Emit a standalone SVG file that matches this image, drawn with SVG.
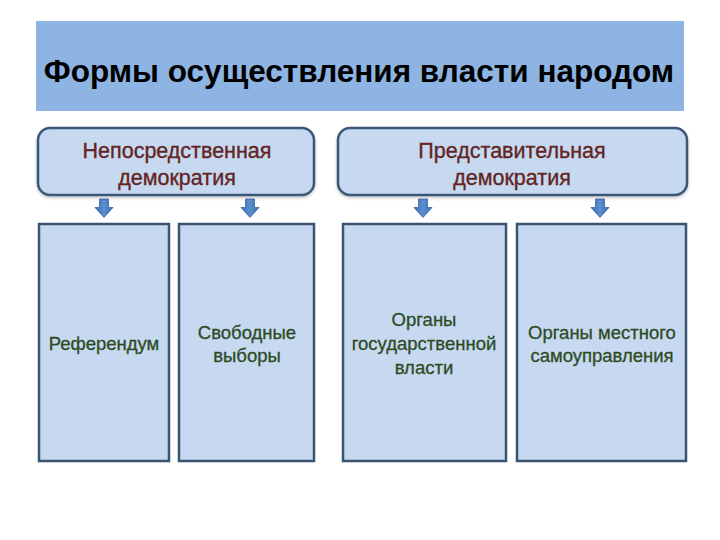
<svg xmlns="http://www.w3.org/2000/svg" width="720" height="540" viewBox="0 0 720 540">
  <defs>
    <linearGradient id="arrowGrad" x1="0" y1="0" x2="1" y2="0">
      <stop offset="0" stop-color="#3D6FAE"/>
      <stop offset="0.5" stop-color="#5B8ED0"/>
      <stop offset="1" stop-color="#3D6FAE"/>
    </linearGradient>
    <filter id="shadow" x="-5%" y="-5%" width="110%" height="115%">
      <feDropShadow dx="0" dy="1.5" stdDeviation="1.5" flood-color="#000" flood-opacity="0.25"/>
    </filter>
  </defs>
  <style>
    .title { font-family: "Liberation Sans", Arial, sans-serif; font-weight: bold; font-size: 31.5px; fill: #000000; }
    .band { fill: #8DB4E2; }
    .top { fill: #C6D9F1; stroke: #3B5878; stroke-width: 2.5; }
    .bottom { fill: #C6D9F1; stroke: #3B5370; stroke-width: 2.5; }
    .ttext { font-family: "Liberation Sans", Arial, sans-serif; font-size: 21.5px; fill: #632423; stroke: #632423; stroke-width: 0.35; text-anchor: middle; }
    .btext { font-family: "Liberation Sans", Arial, sans-serif; font-size: 18.5px; fill: #2E4B1F; stroke: #2E4B1F; stroke-width: 0.3; text-anchor: middle; }
    .arrow { fill: url(#arrowGrad); stroke: #36649E; stroke-width: 0.8; }
  </style>
  <rect width="720" height="540" fill="#FFFFFF"/>

  <g id="title">
    <rect class="band" x="36" y="21" width="648" height="90"/>
    <text class="title" x="359" y="82" text-anchor="middle">Формы осуществления власти народом</text>
  </g>

  <g id="direct-democracy">
    <rect class="top" x="38" y="128" width="276" height="67" rx="12" ry="12" filter="url(#shadow)"/>
    <text class="ttext" x="177" y="158">Непосредственная</text>
    <text class="ttext" x="177" y="185">демократия</text>
  </g>

  <g id="representative-democracy">
    <rect class="top" x="338" y="128" width="349" height="67" rx="12" ry="12" filter="url(#shadow)"/>
    <text class="ttext" x="512" y="158">Представительная</text>
    <text class="ttext" x="512" y="185">демократия</text>
  </g>

  <g id="referendum">
    <rect class="bottom" x="39" y="224" width="130" height="237"/>
    <text class="btext" x="104" y="350">Референдум</text>
  </g>

  <g id="free-elections">
    <rect class="bottom" x="179" y="224" width="135" height="237"/>
    <text class="btext" x="247" y="339">Свободные</text>
    <text class="btext" x="247" y="362">выборы</text>
  </g>

  <g id="state-authorities">
    <rect class="bottom" x="343" y="224" width="163" height="237"/>
    <text class="btext" x="424" y="326">Органы</text>
    <text class="btext" x="424" y="350">государственной</text>
    <text class="btext" x="424" y="374">власти</text>
  </g>

  <g id="local-government">
    <rect class="bottom" x="517" y="224" width="169" height="237"/>
    <text class="btext" x="602" y="339">Органы местного</text>
    <text class="btext" x="602" y="362">самоуправления</text>
  </g>

  <g id="connectors">
    <path class="arrow" d="M99.5,199 h9 v8.5 h4.5 l-9,10 l-9,-10 h4.5 z"/>
    <path class="arrow" d="M245.5,199 h9 v8.5 h4.5 l-9,10 l-9,-10 h4.5 z"/>
    <path class="arrow" d="M418.5,199 h9 v8.5 h4.5 l-9,10 l-9,-10 h4.5 z"/>
    <path class="arrow" d="M595.5,199 h9 v8.5 h4.5 l-9,10 l-9,-10 h4.5 z"/>
  </g>
</svg>
